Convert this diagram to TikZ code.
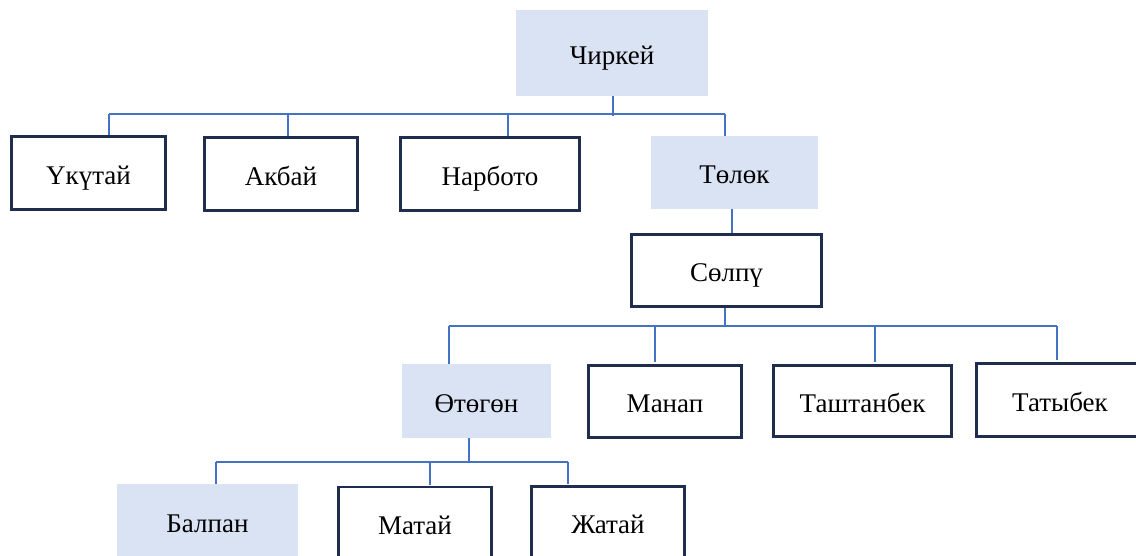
\documentclass[tikz,border=0pt]{standalone}
\usepackage{fontspec}
\setmainfont{Liberation Serif}
\definecolor{boxfill}{HTML}{DAE3F3}
\definecolor{boxline}{HTML}{1F2E4E}
\definecolor{conn}{HTML}{4472C4}
\tikzset{
  lbl/.style={inner sep=0pt, text height=24pt, text depth=2pt, font=\fontsize{27}{30}\selectfont},
  plain/.style={lbl, draw=boxline, line width=2.6pt, fill=white},
  shaded/.style={lbl, fill=boxfill},
  link/.style={draw=conn, line width=1.3pt}
}
\begin{document}
\begin{tikzpicture}[x=1pt,y=-1pt]
\useasboundingbox (0,0) rectangle (1136,555);
% nodes
\node[shaded, minimum width=192pt, minimum height=86pt] (chi) at (612,53) {Чиркей};
\node[plain, minimum width=154.5pt, minimum height=73.5pt] (uku) at (88.5,173) {Үкүтай};
\node[plain, minimum width=153.5pt, minimum height=73.5pt] (akb) at (281,174) {Акбай};
\node[plain, minimum width=179.5pt, minimum height=73.5pt] (nar) at (490,174) {Нарбото};
\node[shaded, minimum width=167pt, minimum height=73pt] (tol) at (734.5,172.5) {Төлөк};
\node[plain, minimum width=190.5pt, minimum height=72.5pt] (sol) at (726.5,270.5) {Сөлпү};
\node[shaded, minimum width=149pt, minimum height=74pt] (oto) at (476.5,401) {Өтөгөн};
\node[plain, minimum width=153.5pt, minimum height=72.5pt] (man) at (665,401.5) {Манап};
\node[plain, minimum width=178.5pt, minimum height=71.5pt] (tas) at (862.5,401) {Таштанбек};
\node[plain, minimum width=167.5pt, minimum height=73.5pt] (tat) at (1060,400) {Татыбек};
\node[shaded, minimum width=181pt, minimum height=74pt] (bal) at (207.5,521) {Балпан};
\node[plain, minimum width=153.5pt, minimum height=72pt] (mat) at (415,523) {Матай};
\node[plain, minimum width=153.5pt, minimum height=72pt] (zha) at (608,522.5) {Жатай};
% level 1 connectors
\coordinate (b1l) at (109,114);
\coordinate (b1r) at (725,114);
\draw[link] (b1l) -- (b1r);
\draw[link] (chi.south -| 613,0) -- (613,116);
\draw[link] (b1l) -- (uku.north -| b1l);
\draw[link] (288,114) -- (akb.north -| 288,0);
\draw[link] (508,114) -- (nar.north -| 508,0);
\draw[link] (b1r) -- (tol.north -| b1r);
% Tolok to Solpu
\draw[link] (tol.south -| 732,0) -- (sol.north -| 732,0);
% level 2
\coordinate (b2l) at (449,326);
\coordinate (b2r) at (1057,326);
\draw[link] (b2l) -- (b2r);
\draw[link] (sol.south -| 725,0) -- (725,327);
\draw[link] (b2l) -- (oto.north -| b2l);
\draw[link] (655,326) -- (655,362);
\draw[link] (875,326) -- (875,362);
\draw[link] (b2r) -- (1057,360);
% level 3
\coordinate (b3l) at (216,462);
\coordinate (b3r) at (568,462);
\draw[link] (b3l) -- (b3r);
\draw[link] (oto.south -| 469,0) -- (469,462);
\draw[link] (b3l) -- (bal.north -| b3l);
\draw[link] (430,462) -- (430,485);
\draw[link] (b3r) -- (568,484);
\end{tikzpicture}
\end{document}
